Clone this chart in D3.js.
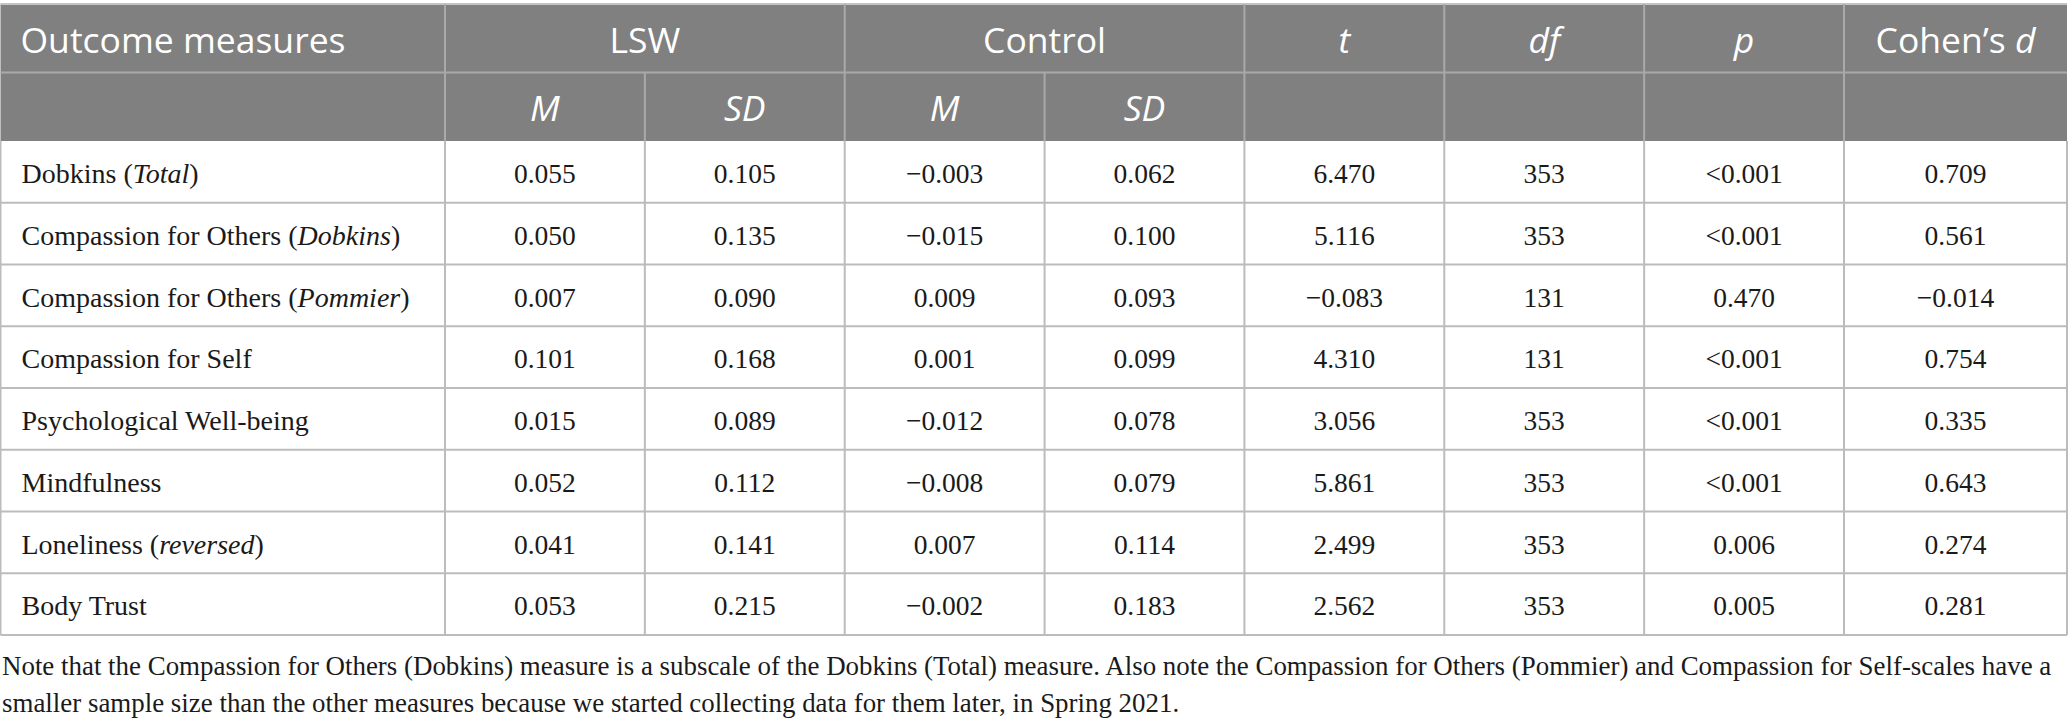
<!DOCTYPE html>
<html>
<head>
<meta charset="utf-8">
<script src="https://cdn.jsdelivr.net/npm/d3@7"></script>
<style>
  html, body { margin: 0; padding: 0; background: #ffffff; }
  svg { display: block; }
</style>
</head>
<body>
<script>
// ---------------- DATA ----------------
const measures = [
  "Dobkins (Total)",
  "Compassion for Others (Dobkins)",
  "Compassion for Others (Pommier)",
  "Compassion for Self",
  "Psychological Well-being",
  "Mindfulness",
  "Loneliness (reversed)",
  "Body Trust"
];
const italicParts = ["Total", "Dobkins", "Pommier", null, null, null, "reversed", null];
const lswM   = [0.055, 0.050, 0.007, 0.101, 0.015, 0.052, 0.041, 0.053];
const lswSD  = [0.105, 0.135, 0.090, 0.168, 0.089, 0.112, 0.141, 0.215];
const ctlM   = [-0.003, -0.015, 0.009, 0.001, -0.012, -0.008, 0.007, -0.002];
const ctlSD  = [0.062, 0.100, 0.093, 0.099, 0.078, 0.079, 0.114, 0.183];
const tVals  = [6.470, 5.116, -0.083, 4.310, 3.056, 5.861, 2.499, 2.562];
const dfVals = [353, 353, 131, 131, 353, 353, 353, 353];
const pVals  = ["<0.001", "<0.001", "0.470", "<0.001", "<0.001", "<0.001", "0.006", "0.005"];
const dVals  = [0.709, 0.561, -0.014, 0.754, 0.335, 0.643, 0.274, 0.281];

const headerTop = ["Outcome measures", "LSW", "Control", "t", "df", "p", "Cohen\u2019s d"];
const headerSub = ["M", "SD", "M", "SD"];
const noteLines = [
  "Note that the Compassion for Others (Dobkins) measure is a subscale of the Dobkins (Total) measure. Also note the Compassion for Others (Pommier) and Compassion for Self-scales have a",
  "smaller sample size than the other measures because we started collecting data for them later, in Spring 2021."
];

// ---------------- LAYOUT ----------------
const W = 2068, H = 726;
const svg = d3.select("body").append("svg").attr("width", W).attr("height", H);

// column edge scale (index of column edge -> x)
const colX = d3.scaleLinear().domain([0, 1, 8, 9]).range([0.5, 445, 1844, 2067]);
// header rows
const headY = d3.scaleLinear().domain([0, 1, 2]).range([4, 72.5, 141]);
// data rows
const rowY = d3.scaleBand().domain(d3.range(measures.length)).range([141, 635]).padding(0);

const fmt = d3.format(".3f");
const serif = "'Liberation Serif', 'Times New Roman', serif";
const sans = "'Open Sans', 'Noto Sans', sans-serif";
const headBg = "#808080";
const headLine = "#a9a9a9";
const gridLine = "#bcbcbc";
const textCol = "#1a1a1a";

// header background
svg.append("rect").attr("x", colX(0)).attr("y", headY(0))
  .attr("width", colX(9) - colX(0)).attr("height", headY(2) - headY(0))
  .attr("fill", headBg);

// top line
svg.append("line").attr("x1", colX(0)).attr("x2", colX(9))
  .attr("y1", headY(0)).attr("y2", headY(0))
  .attr("stroke", "#c4c4c4").attr("stroke-width", 2);

// header horizontal line between header rows
svg.append("line").attr("x1", colX(0)).attr("x2", colX(9))
  .attr("y1", headY(1)).attr("y2", headY(1))
  .attr("stroke", headLine).attr("stroke-width", 2);

// header vertical lines
const headVertFull = [1, 3, 5, 6, 7, 8];
const headVertSub = [2, 4];
svg.selectAll(".hvf").data(headVertFull).enter().append("line")
  .attr("x1", d => colX(d)).attr("x2", d => colX(d))
  .attr("y1", headY(0)).attr("y2", headY(2))
  .attr("stroke", headLine).attr("stroke-width", 2);
svg.selectAll(".hvs").data(headVertSub).enter().append("line")
  .attr("x1", d => colX(d)).attr("x2", d => colX(d))
  .attr("y1", headY(1)).attr("y2", headY(2))
  .attr("stroke", headLine).attr("stroke-width", 2);

// header text row 1
const headSpans = [[0, 1], [1, 3], [3, 5], [5, 6], [6, 7], [7, 8], [8, 9]];
const headItalic = [false, false, false, true, true, true, false];
const hBase1 = headY(0) + 48.5;
headerTop.forEach((label, i) => {
  const [a, b] = headSpans[i];
  const t = svg.append("text")
    .attr("font-family", sans).attr("font-size", 35.5).attr("fill", "#ffffff")
    .attr("y", hBase1);
  if (i === 0) {
    t.attr("x", colX(0) + 20).attr("text-anchor", "start");
  } else {
    t.attr("x", (colX(a) + colX(b)) / 2).attr("text-anchor", "middle");
  }
  if (i === 6) {
    t.append("tspan").text("Cohen\u2019s ");
    t.append("tspan").attr("font-style", "italic").text("d");
  } else {
    t.text(label).attr("font-style", headItalic[i] ? "italic" : "normal");
  }
});

// header text row 2
const hBase2 = headY(1) + 48.5;
svg.selectAll(".hsub").data(headerSub).enter().append("text")
  .attr("x", (d, i) => (colX(i + 1) + colX(i + 2)) / 2)
  .attr("y", hBase2)
  .attr("text-anchor", "middle")
  .attr("font-family", sans).attr("font-size", 35.5).attr("font-style", "italic")
  .attr("fill", "#ffffff")
  .text(d => d);

// data grid: horizontal lines
const rowEdges = d3.range(measures.length).map(i => rowY(i) + rowY.bandwidth());
svg.selectAll(".hl").data(rowEdges).enter().append("line")
  .attr("x1", colX(0)).attr("x2", colX(9))
  .attr("y1", d => d).attr("y2", d => d)
  .attr("stroke", gridLine).attr("stroke-width", 2);

// data grid: vertical lines
svg.selectAll(".vl").data(d3.range(0, 10)).enter().append("line")
  .attr("x1", d => colX(d)).attr("x2", d => colX(d))
  .attr("y1", rowY(0)).attr("y2", rowY.range()[1])
  .attr("stroke", gridLine).attr("stroke-width", 2);

// data cells
const columns = [
  lswM.map(fmt), lswSD.map(fmt), ctlM.map(fmt), ctlSD.map(fmt),
  tVals.map(fmt), dfVals.map(String), pVals, dVals.map(fmt)
];
const cellBase = 42;
measures.forEach((m, r) => {
  const y = rowY(r) + cellBase;
  const t = svg.append("text")
    .attr("x", colX(0) + 21).attr("y", y)
    .attr("font-family", serif).attr("font-size", 28).attr("fill", textCol);
  const it = italicParts[r];
  if (it) {
    const idx = m.indexOf(it);
    t.append("tspan").text(m.slice(0, idx));
    t.append("tspan").attr("font-style", "italic").text(it);
    t.append("tspan").text(m.slice(idx + it.length));
  } else {
    t.text(m);
  }
  columns.forEach((col, c) => {
    svg.append("text")
      .attr("x", (colX(c + 1) + colX(c + 2)) / 2)
      .attr("y", y)
      .attr("text-anchor", "middle")
      .attr("font-family", serif).attr("font-size", 27.5).attr("fill", textCol)
      .text(col[r]);
  });
});

// note: fit first line to the width used in the reference
const noteSel = svg.selectAll(".note").data(noteLines).enter().append("text")
  .attr("class", "note")
  .attr("x", 2)
  .attr("y", (d, i) => 675 + i * 37)
  .attr("font-family", serif).attr("font-size", 27.5).attr("fill", textCol)
  .text(d => d);
const firstW = noteSel.nodes()[0].getComputedTextLength();
const targetW = 2051;
const noteSize = 27.5 * targetW / firstW;
noteSel.attr("font-size", noteSize);
</script>
</body>
</html>
